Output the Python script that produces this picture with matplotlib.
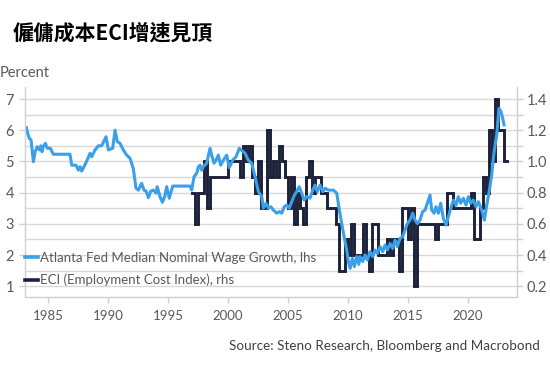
import numpy as np
import pandas as pd
import matplotlib
matplotlib.use("Agg")
import matplotlib.pyplot as plt
from matplotlib.ticker import FixedLocator, FuncFormatter

# ---------------- data ----------------
wage_years = [1983.2, 1983.3, 1983.44, 1983.58, 1983.78, 1983.92, 1984.1, 1984.28, 1984.4, 1984.5,
              1984.6, 1984.78, 1984.94, 1985.2, 1985.44, 1986.83, 1986.97, 1987.33, 1987.53, 1987.67,
              1987.8, 1988.0, 1988.22, 1988.5, 1988.64, 1988.92, 1989.19, 1989.47, 1989.83, 1990.03,
              1990.39, 1990.58, 1990.78, 1991.0, 1991.3, 1991.56, 1991.83, 1992.1, 1992.33, 1992.53,
              1992.8, 1993.0, 1993.17, 1993.36, 1993.56, 1993.78, 1994.0, 1994.1, 1994.33, 1994.53,
              1994.72, 1994.89, 1995.1, 1995.39, 1996.83, 1996.97, 1997.17, 1997.39, 1997.53, 1997.67,
              1997.81, 1997.94, 1998.22, 1998.5, 1998.64, 1998.83, 1999.0, 1999.19, 1999.39, 1999.61,
              1999.89, 2000.1, 2000.39, 2000.67, 2000.94, 2001.14, 2001.42, 2001.69, 2001.97, 2002.25,
              2002.53, 2002.81, 2002.94, 2003.17, 2003.36, 2003.56, 2003.78, 2004.06, 2004.28, 2004.47,
              2004.69, 2004.89, 2005.1, 2005.31, 2005.53, 2005.72, 2005.92, 2006.14, 2006.33, 2006.56,
              2006.83, 2007.06, 2007.25, 2007.44, 2007.67, 2007.89, 2008.08, 2008.36, 2008.78, 2009.06,
              2009.28, 2009.47, 2009.67, 2009.89, 2010.03, 2010.17, 2010.36, 2010.53, 2010.72, 2010.9,
              2011.0, 2011.22, 2011.42, 2011.61, 2011.83, 2012.06, 2012.25, 2012.44, 2012.67, 2012.89,
              2013.08, 2013.28, 2013.5, 2013.72, 2013.92, 2014.11, 2014.33, 2014.56, 2014.75, 2014.94,
              2015.17, 2015.39, 2015.58, 2015.78, 2016.0, 2016.22, 2016.42, 2016.61, 2016.83, 2016.97,
              2017.17, 2017.33, 2017.53, 2017.72, 2017.94, 2018.17, 2018.36, 2018.56, 2018.78, 2019.0,
              2019.19, 2019.39, 2019.61, 2019.83, 2020.03, 2020.22, 2020.44, 2020.67, 2020.86, 2021.14,
              2021.36, 2021.56, 2021.78, 2021.97, 2022.17, 2022.39, 2022.58, 2022.75, 2022.89, 2023.0]
wage_values = [6.08, 5.9, 5.74, 5.69, 4.99, 5.31, 5.47, 5.37, 5.5, 5.31,
               5.47, 5.58, 5.42, 5.42, 5.23, 5.23, 4.88, 4.88, 4.72, 4.83,
               4.69, 4.83, 5.01, 5.26, 5.15, 5.37, 5.5, 5.5, 5.79, 5.37,
               5.42, 6.0, 5.63, 5.58, 5.35, 5.2, 5.1, 4.78, 4.14, 4.08,
               4.30, 4.08, 4.05, 3.84, 4.05, 4.08, 3.98, 4.19, 3.87, 3.69,
               3.87, 4.19, 3.82, 4.21, 4.21, 4.08, 4.51, 4.62, 4.83, 4.88,
               4.72, 4.83, 4.94, 5.42, 5.2, 4.94, 5.04, 5.2, 4.88, 5.04,
               5.2, 4.8, 5.04, 5.15, 5.42, 5.35, 5.26, 5.04, 4.94, 4.51,
               4.03, 3.87, 3.50, 3.66, 3.5, 3.55, 3.44, 3.34, 3.39, 3.34,
               3.55, 3.6, 3.5, 3.71, 3.92, 4.03, 4.19, 3.98, 3.76, 3.87,
               3.82, 4.08, 4.24, 4.03, 4.24, 4.03, 4.14, 4.08, 4.08, 3.98,
               3.44, 3.01, 2.59, 2.16, 1.79, 1.57, 1.89, 1.63, 1.95, 1.7,
               1.95, 1.79, 2.0, 1.84, 2.11, 1.95, 2.16, 2.05, 2.27, 2.11,
               2.32, 2.16, 2.37, 2.21, 2.48, 2.27, 2.53, 2.59, 2.8, 3.01,
               3.12, 3.34, 3.12, 3.01, 3.12, 3.39, 3.44, 3.66, 3.92, 3.44,
               3.34, 3.55, 3.34, 3.66, 3.18, 2.96, 3.23, 3.5, 3.76, 3.6,
               3.87, 3.66, 3.82, 3.6, 3.87, 3.66, 3.76, 3.55, 3.71, 3.44,
               3.12, 3.6, 4.08, 4.56, 5.31, 5.85, 6.7, 6.59, 6.38, 6.17]

eci_start = "1997Q1"
eci_values = [0.8, 0.6, 0.8, 0.8,
              1.0, 0.7, 0.9, 0.9,
              0.9, 0.9, 0.9, 0.9,
              1.0, 1.0, 1.0, 1.0,
              0.9, 1.1, 1.0, 1.1,
              0.9, 0.8, 1.0, 0.7,
              0.7, 1.2, 0.9, 1.0,
              0.9, 1.1, 1.0, 0.9,
              0.7, 0.9, 0.6, 0.8,
              0.7, 0.6, 0.9, 1.0,
              0.8, 0.9, 0.9, 0.8,
              0.8, 0.7, 0.7, 0.7,
              0.6, 0.3, 0.3, 0.5,
              0.4, 0.6, 0.4, 0.4,
              0.4, 0.6, 0.4, 0.3,
              0.6, 0.6, 0.4, 0.4,
              0.4, 0.5, 0.4, 0.5,
              0.5, 0.3, 0.7, 0.7,
              0.5, 0.7, 0.2, 0.6,
              0.6, 0.6, 0.6, 0.6,
              0.6, 0.5, 0.6, 0.6,
              0.6, 0.8, 0.8, 0.7,
              0.7, 0.7, 0.7, 0.7,
              0.7, 0.8, 0.5, 0.5,
              0.7, 0.9, 0.8, 1.2,
              1.0, 1.4, 1.2, 1.2,
              1.0]

left_ticks = [1, 2, 3, 4, 5, 6, 7]
right_ticks = [0.2, 0.4, 0.6, 0.8, 1.0, 1.2, 1.4]
right_minor = [0.3, 0.5, 0.7, 0.9, 1.1, 1.3]
year_ticks = [1985, 1990, 1995, 2000, 2005, 2010, 2015, 2020]

title = "僱傭成本ECI增速見頂"
label_wage = "Atlanta Fed Median Nominal Wage Growth, lhs"
label_eci = "ECI (Employment Cost Index), rhs"
source = "Source: Steno Research, Bloomberg and Macrobond"

# ---------------- styling ----------------
BLUE = "#3b9fea"
NAVY = "#1b2139"
GRID = "#d9d9d9"
SPINE = "#d0d0d0"
TXT = "#595959"
FONT = "Lato"
FS = 9.5

plt.rcParams['font.family'] = [FONT, 'DejaVu Sans']

fig = plt.figure(figsize=(5.5, 3.66), dpi=100)
fig.patch.set_facecolor("white")
renderer = fig.canvas.get_renderer()


def fit_width(text_obj, target_px):
    """Scale a text's font size so its rendered width is target_px."""
    for _ in range(3):
        w = text_obj.get_window_extent(renderer=renderer).width
        if w <= 0:
            break
        text_obj.set_fontsize(text_obj.get_fontsize() * target_px / w)


ax2 = fig.add_axes([25/550, 1-297/366, 492/550, 210/366])
ax = ax2.twinx()
ax.set_zorder(ax2.get_zorder() + 1)
ax.patch.set_visible(False)

# ECI on right axis (step)
periods = pd.period_range(eci_start, periods=len(eci_values), freq="Q")
eci_x = np.array([p.year + (p.quarter - 1) / 4 for p in periods])
eci_x_ext = np.append(eci_x, eci_x[-1] + 0.25)
eci_y_ext = np.append(eci_values, eci_values[-1])
l2, = ax2.plot(eci_x_ext, eci_y_ext, drawstyle="steps-post", color=NAVY, lw=2.1,
               solid_joinstyle="miter", label=label_eci)

# wage on left axis
l1, = ax.plot(wage_years, wage_values, color=BLUE, lw=2.2, label=label_wage,
              solid_joinstyle="round")

# limits
xlim = (1983.08, 2024.08)
ax2.set_xlim(*xlim)
lv_lo, lv_hi = 0.654, 7.385
ax.set_ylim(lv_lo, lv_hi)
ax2.set_ylim(0.2 + (lv_lo - 1) * 0.2, 0.2 + (lv_hi - 1) * 0.2)

ax.yaxis.set_ticks_position("left")
ax.yaxis.set_label_position("left")
ax2.yaxis.set_ticks_position("right")
ax2.yaxis.set_label_position("right")

ax.set_yticks(left_ticks)
ax.set_yticklabels([str(t) for t in left_ticks])
ax2.yaxis.set_major_locator(FixedLocator(right_ticks))
ax2.yaxis.set_major_formatter(FuncFormatter(lambda v, p: f"{v:.1f}"))
ax2.yaxis.set_minor_locator(FixedLocator(right_minor))

ax2.set_xticks(year_ticks)
ax2.set_xticklabels([str(y) for y in year_ticks])

for v in right_ticks + right_minor:
    ax2.axhline(v, color=GRID, lw=1.0, zorder=0)

for a in (ax, ax2):
    for s in a.spines.values():
        s.set_color(SPINE)
        s.set_linewidth(1.0)
    a.spines["top"].set_visible(False)
ax.spines["right"].set_visible(False)
ax.spines["bottom"].set_visible(False)
ax2.spines["left"].set_visible(False)
ax.spines["left"].set_visible(True)

ax.tick_params(axis="y", which="major", length=4, width=1, color=SPINE, labelcolor=TXT,
               labelsize=FS + 1, pad=4)
ax.tick_params(axis="x", which="both", bottom=False, labelbottom=False)
ax2.tick_params(axis="y", which="both", length=4, width=1, color=SPINE, labelcolor=TXT,
                labelsize=FS + 1, pad=3)
ax2.tick_params(axis="x", which="major", length=4, width=1, color=SPINE, labelcolor=TXT,
                labelsize=FS, pad=5)

# legend
leg = ax.legend(handles=[l1, l2], loc="lower left", bbox_to_anchor=(0.0, 0.05),
                frameon=False, fontsize=10.0, handlelength=0.95, handletextpad=0.15,
                labelspacing=0.75, borderaxespad=0.0, borderpad=0.0)
for t in leg.get_texts():
    t.set_color(TXT)
fit_width(leg.get_texts()[0], 277)
leg.get_texts()[1].set_fontsize(leg.get_texts()[0].get_fontsize())
for h in leg.get_lines():
    h.set_linewidth(2.6)

# texts
t_title = fig.text(13/550, 1-33/366, title, fontsize=16, fontweight="bold", color="black",
                   family=["Noto Sans CJK TC", "DejaVu Sans"], ha="left", va="center")
fit_width(t_title, 200)
fig.text(0/550, 1-73/366, "Percent", fontsize=FS + 1, color=TXT, ha="left", va="center")
t_src = fig.text(540/550, 1-346/366, source, fontsize=9.7, color="#404040",
                 ha="right", va="center")
fit_width(t_src, 308)

fig.savefig("out.png", dpi=100)
